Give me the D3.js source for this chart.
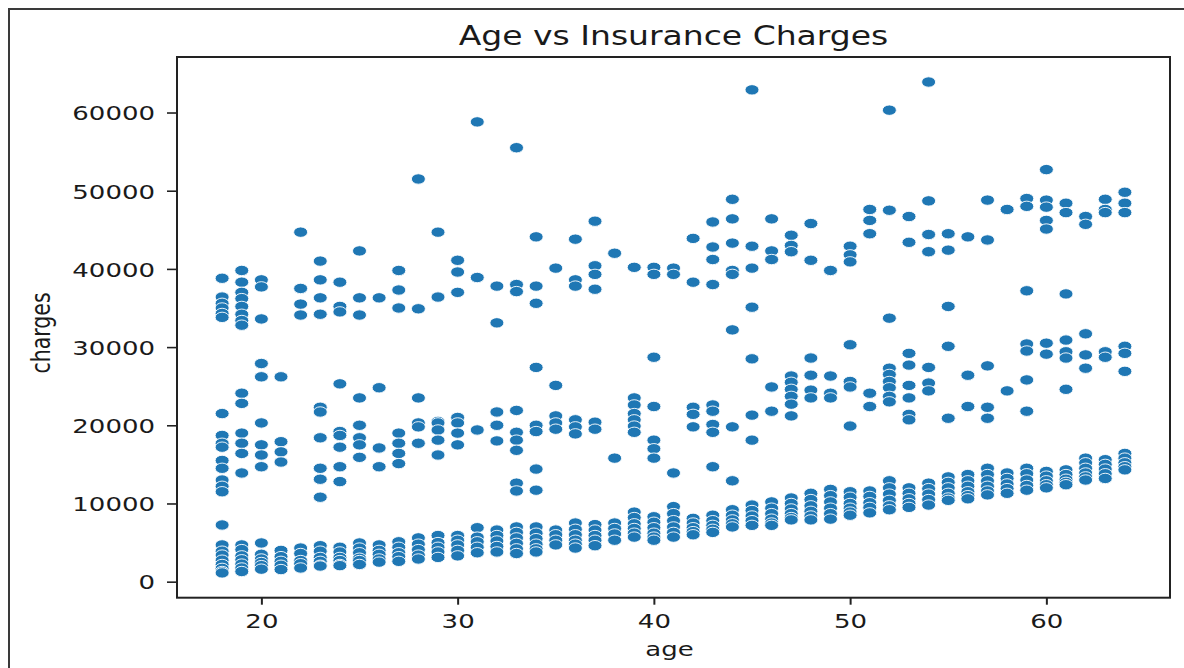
<!DOCTYPE html>
<html>
<head>
<meta charset="utf-8">
<script src="https://cdn.jsdelivr.net/npm/d3@7"></script>
<style>
  html, body { margin: 0; padding: 0; background: #fff; }
  svg { display: block; }
  text { font-family: "DejaVu Sans", sans-serif; fill: #1a1a1a; }
</style>
</head>
<body>
<svg id="chart" width="1184" height="668"></svg>
<script>
// ---------------- data ----------------
const title = "Age vs Insurance Charges";
const xLabel = "age";
const yLabel = "charges";
const xTicks = [20, 30, 40, 50, 60];
const yTicks = [0, 10000, 20000, 30000, 40000, 50000, 60000];

const ages = [18,19,20,21,22,23,24,25,26,27,28,29,30,31,32,33,34,35,36,37,38,39,40,41,
              42,43,44,45,46,47,48,49,50,51,52,53,54,55,56,57,58,59,60,61,62,63,64];

// lower (dense) band of charges for each age
const lowBand = [
  [7250, 4700, 3900, 3400, 2750, 2200, 1700, 1300, 1120],
  [4700, 4100, 3300, 2800, 2250, 1750, 1300],
  [4950, 3500, 2900, 2450, 2050, 1600],
  [4000, 3200, 2600, 2100, 1550],
  [4300, 3600, 2700, 2300, 1750],
  [4600, 3900, 3100, 2600, 2100, 2000],
  [4400, 3800, 3100, 2700, 2200, 2050],
  [4950, 4300, 3700, 3000, 2700, 2200],
  [4700, 4000, 3500, 2900, 2500],
  [5100, 4400, 3700, 3200, 2600],
  [5600, 4800, 4100, 3400, 2900],
  [5900, 5000, 4400, 3800, 3100],
  [5900, 5300, 4700, 4000, 3300],
  [6900, 5700, 5100, 4400, 3700],
  [6600, 5900, 5200, 4500, 3800],
  [7000, 6300, 5600, 4900, 4200, 3600],
  [7000, 6200, 5500, 4800, 4200, 3800],
  [6600, 6000, 5300, 4700],
  [7500, 6700, 6000, 5300, 4800, 4300],
  [7300, 6600, 5900, 5300, 4600],
  [7500, 6800, 6100, 5300],
  [8900, 8200, 7400, 6800, 6200, 5700],
  [8300, 7600, 6900, 6200, 5700, 5300],
  [9600, 8700, 7800, 7000, 6300, 5700],
  [8100, 7500, 6900, 6400, 6000],
  [8500, 7800, 7200, 6700, 6300],
  [9200, 8500, 7900, 7400, 7000],
  [9800, 9100, 8400, 7800, 7200],
  [10200, 9400, 8700, 8000, 7500, 7200],
  [10700, 10000, 9300, 8700, 8200, 7900],
  [11300, 10500, 9700, 9000, 8400, 7900],
  [11800, 11000, 10200, 9400, 8700, 8000],
  [11500, 10800, 10000, 9400, 8900, 8500],
  [11600, 10900, 10100, 9500, 8800],
  [12900, 12000, 11200, 10400, 9700, 9200],
  [12000, 11300, 10600, 10000, 9500],
  [12600, 11900, 11200, 10500, 9800],
  [13400, 12700, 12000, 11300, 10700, 10400],
  [13700, 12900, 12200, 11500, 11000, 10600],
  [14500, 13700, 12900, 12200, 11600, 11100],
  [13900, 13200, 12500, 11900, 11300],
  [14500, 13800, 13000, 12300, 11700],
  [14100, 13500, 12900, 12400, 12000],
  [14300, 13700, 13100, 12700, 12400],
  [15800, 15200, 14500, 13900, 13400, 13000],
  [15600, 15000, 14400, 13800, 13200],
  [16400, 15800, 15200, 14700, 14300]
];

// middle band of charges for each age
const midBand = [
  [21500, 18700, 17700, 17200, 15500, 14500, 13000, 12200, 11500],
  [24100, 22800, 19000, 17700, 16400, 13900],
  [27900, 26200, 20300, 17500, 16200, 14700],
  [26200, 17900, 16600, 15300],
  [],
  [22300, 21700, 18400, 14500, 13100, 10800],
  [25300, 19200, 18700, 17200, 14700, 12800],
  [23500, 20000, 18400, 17500, 15900],
  [24800, 17100, 14700],
  [19000, 17700, 16400, 15100],
  [23500, 20300, 19800, 17700],
  [20500, 20300, 19400, 18100, 16200],
  [21000, 20300, 19000, 17500],
  [19400],
  [21700, 20000, 18000],
  [21900, 19100, 18100, 16800, 12600, 11600],
  [27400, 20000, 19200, 14400, 11700],
  [25100, 21200, 20300, 19500],
  [20700, 19800, 18900],
  [20400, 19500],
  [15800],
  [23500, 22600, 21500, 20700, 19900, 19100],
  [28700, 22400, 18100, 17000, 15800],
  [13900],
  [22300, 21400, 19800],
  [22600, 21800, 20100, 19100, 14700],
  [32200, 19800, 12900],
  [35100, 28500, 21300, 18100],
  [24900, 21800],
  [26300, 25500, 24600, 23700, 22700, 21200],
  [28600, 26400, 24500, 23500],
  [26300, 24100, 23500],
  [30300, 25600, 24900, 19900],
  [24100, 22400],
  [33700, 27300, 26500, 25600, 24800, 23700, 23000],
  [29200, 27700, 25100, 23500, 21400, 20700],
  [27400, 25400, 24400],
  [35200, 30100, 20900],
  [26400, 22400],
  [27600, 22300, 20900],
  [24400],
  [37200, 30400, 29500, 25800, 21800],
  [30500, 29100],
  [36800, 30900, 29400, 28600, 24600],
  [31700, 29000, 27300],
  [29400, 28700],
  [30100, 29200, 26900]
];

// upper band of charges for each age
const highBand = [
  [38800, 36400, 35600, 35000, 34300, 33800],
  [39800, 38300, 37000, 36200, 35200, 34200, 33400, 32800],
  [38600, 37700, 33600],
  [],
  [44700, 37500, 35500, 34100],
  [41000, 38600, 36300, 34200],
  [38300, 35200, 34500],
  [42300, 36300, 34100],
  [36300],
  [39800, 37300, 35000],
  [51500, 34900],
  [44700, 36400],
  [41100, 39600, 37000],
  [58800, 38900],
  [37800, 33100],
  [55500, 38000, 37100],
  [44100, 37800, 35600],
  [40100],
  [43800, 38600, 37800],
  [46100, 40400, 39300, 37400],
  [42000],
  [40200],
  [40200, 39300],
  [40100, 39300],
  [43900, 38300],
  [46000, 42800, 41200, 38000],
  [48900, 46400, 43300, 39800, 39300],
  [62900, 42900, 40100],
  [46400, 42300, 41200],
  [44300, 43000, 42200],
  [45800, 41100],
  [39800],
  [42900, 41800, 40900],
  [47600, 46200, 44500],
  [60300, 47500],
  [46700, 43400],
  [63900, 48700, 44400, 42200],
  [44500, 42400],
  [44100],
  [48800, 43700],
  [47600],
  [49000, 48000],
  [52700, 48800, 47900, 46200, 45100],
  [48400, 47200],
  [46700, 45700],
  [48900, 47600, 47200],
  [49800, 48400, 47200]
];

// ---------------- drawing ----------------
const W = 1184, H = 668;
const plot = { left: 177, right: 1170, top: 57, bottom: 597.7 };
const SX = 1.3; // horizontal stretch of the screenshot

const points = [];
ages.forEach((a, i) => {
  [lowBand[i], midBand[i], highBand[i]].forEach(arr => arr.forEach(v => points.push({ age: a, charges: v })));
});

const svg = d3.select("#chart");
svg.append("rect").attr("width", W).attr("height", H).attr("fill", "#fff");

// outer frame of the screenshot
svg.append("line").attr("x1", 9).attr("x2", 9).attr("y1", 8).attr("y2", H)
  .attr("stroke", "#3a3a3a").attr("stroke-width", 2);
svg.append("line").attr("x1", 8).attr("x2", W).attr("y1", 9).attr("y2", 9)
  .attr("stroke", "#3a3a3a").attr("stroke-width", 2);

const x = d3.scaleLinear().domain([15.7, 66.3]).range([plot.left, plot.right]);
const y = d3.scaleLinear().domain([-2050, 67100]).range([plot.bottom, plot.top]);

function stretchedText(parent, tx, ty, str, size, anchor, sx, rot) {
  const g = parent.append("g")
    .attr("transform", `translate(${tx},${ty}) scale(${sx},1)` + (rot ? ` rotate(${rot})` : ""));
  return g.append("text").attr("x", 0).attr("y", 0)
    .attr("text-anchor", anchor).attr("font-size", size).text(str);
}

// points
svg.append("g").selectAll("ellipse").data(points).join("ellipse")
  .attr("cx", d => x(d.age))
  .attr("cy", d => y(d.charges))
  .attr("rx", 7).attr("ry", 5.2)
  .attr("fill", "#1f77b4")
  .attr("stroke", "#ffffff").attr("stroke-width", 0.9);

// axes
const xAxis = svg.append("g").attr("transform", `translate(0,${plot.bottom})`)
  .call(d3.axisBottom(x).tickValues(xTicks).tickSize(7).tickSizeOuter(0).tickFormat(d3.format("d")));
xAxis.select(".domain").remove();
xAxis.selectAll(".tick line").attr("stroke", "#222").attr("stroke-width", 2);
xAxis.selectAll(".tick text").remove();
xAxis.selectAll(".tick").each(function(d) {
  stretchedText(d3.select(this), 0, 30.5, String(d), 20, "middle", SX);
});

const yAxis = svg.append("g").attr("transform", `translate(${plot.left},0)`)
  .call(d3.axisLeft(y).tickValues(yTicks).tickSize(10).tickSizeOuter(0).tickFormat(d3.format("d")));
yAxis.select(".domain").remove();
yAxis.selectAll(".tick line").attr("stroke", "#222").attr("stroke-width", 1.6);
yAxis.selectAll(".tick text").remove();
yAxis.selectAll(".tick").each(function(d) {
  stretchedText(d3.select(this), -22, 7.3, String(d), 20, "end", SX);
});

// spines
svg.append("rect")
  .attr("x", plot.left).attr("y", plot.top)
  .attr("width", plot.right - plot.left).attr("height", plot.bottom - plot.top)
  .attr("fill", "none").attr("stroke", "#222").attr("stroke-width", 2);

// labels
stretchedText(svg, (plot.left + plot.right) / 2, 45, title, 26, "middle", 1.27);
stretchedText(svg, (plot.left + plot.right) / 2 - 4, 656, xLabel, 20, "middle", SX);
stretchedText(svg, 50, 333, yLabel, 20.5, "middle", SX, -90);
</script>
</body>
</html>
